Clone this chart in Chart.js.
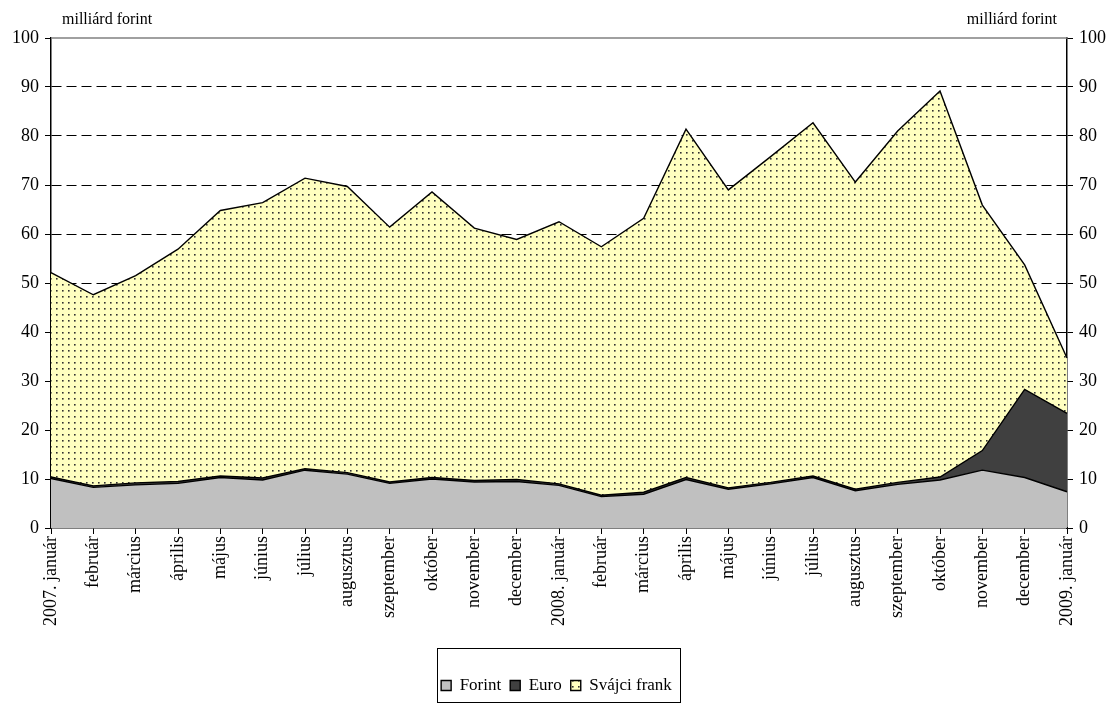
<!DOCTYPE html>
<html>
<head>
<meta charset="utf-8">
<script src="https://cdn.jsdelivr.net/npm/chart.js@4"></script>
<style>
  html, body { margin: 0; padding: 0; background: #fff; }
  #wrap { width: 1113px; height: 704px; }
</style>
</head>
<body>
<div id="wrap"><canvas id="chart"></canvas></div>
<script>
const months = ['2007. január', 'február', 'március', 'április', 'május', 'június', 'július',
    'augusztus', 'szeptember', 'október', 'november', 'december',
    '2008. január', 'február', 'március', 'április', 'május', 'június', 'július',
    'augusztus', 'szeptember', 'október', 'november', 'december', '2009. január'];

// milliárd forint
const forint = [10.1, 8.3, 8.8, 9.1, 10.3, 9.8, 11.8, 11.0, 9.1, 10.0, 9.4, 9.5,
    8.7, 6.4, 6.9, 9.9, 7.9, 9.0, 10.3, 7.6, 8.9, 9.8, 11.8, 10.3, 7.4];
const euro = [0.3, 0.3, 0.4, 0.4, 0.3, 0.4, 0.3, 0.3, 0.3, 0.3, 0.3, 0.4,
    0.3, 0.3, 0.4, 0.4, 0.3, 0.3, 0.3, 0.3, 0.4, 0.6, 4.0, 18.0, 16.0];
const frank = [41.7, 39.0, 42.3, 47.4, 54.2, 56.2, 59.3, 58.4, 52.0, 58.3, 51.5, 49.0,
    53.5, 50.7, 55.9, 71.1, 60.8, 66.5, 72.1, 62.7, 71.7, 78.8, 50.1, 25.4, 11.3];

const yTicks = [0, 10, 20, 30, 40, 50, 60, 70, 80, 90, 100];
const unitLabel = 'milliárd forint';

const FONT = '"Liberation Serif", "Times New Roman", serif';

function dotPattern() {
    const c = document.createElement('canvas');
    c.width = 6; c.height = 6;
    const g = c.getContext('2d');
    g.fillStyle = '#ffffc0';
    g.fillRect(0, 0, 6, 6);
    g.fillStyle = '#303030';
    g.fillRect(2, 2, 1.6, 1.6);
    return g.createPattern(c, 'repeat');
}
const frankFill = dotPattern();

const frame = {
    id: 'frame',
    afterDraw(chart) {
        const { ctx, chartArea } = chart;
        ctx.save();
        // top line at 100
        ctx.strokeStyle = '#808080';
        ctx.lineWidth = 1.5;
        ctx.beginPath();
        ctx.moveTo(chartArea.left, chartArea.top);
        ctx.lineTo(chartArea.right, chartArea.top);
        ctx.stroke();
        // unit labels
        ctx.fillStyle = '#000';
        ctx.font = '16px ' + FONT;
        ctx.textBaseline = 'alphabetic';
        ctx.textAlign = 'left';
        ctx.fillText(unitLabel, chartArea.left + 11, 24);
        ctx.textAlign = 'right';
        ctx.fillText(unitLabel, chartArea.right - 10, 24);
        // legend box
        const boxes = chart.legend.legendHitBoxes;
        if (boxes && boxes.length) {
            const l = Math.min(...boxes.map(b => b.left)) - 4;
            const r = Math.max(...boxes.map(b => b.left + b.width)) + 8;
            ctx.strokeStyle = '#000';
            ctx.lineWidth = 1;
            ctx.strokeRect(Math.round(l) + 0.5, 648.5, Math.round(r - l), 54);
        }
        ctx.restore();
    }
};

const ctx = document.getElementById('chart').getContext('2d');
new Chart(ctx, {
    type: 'line',
    data: {
        labels: months,
        datasets: [
            { label: 'Forint', data: forint, backgroundColor: '#c0c0c0', fill: 'origin' },
            { label: 'Euro', data: euro, backgroundColor: '#404040', fill: '-1' },
            { label: 'Svájci frank', data: frank, backgroundColor: frankFill, fill: '-1' }
        ].map(ds => Object.assign(ds, {
            borderColor: '#000',
            borderWidth: 1.4,
            pointRadius: 0,
            tension: 0
        }))
    },
    options: {
        responsive: true,
        maintainAspectRatio: false,
        animation: false,
        layout: { padding: { top: 38, bottom: 0, left: 0, right: 0 } },
        plugins: {
            legend: {
                display: true,
                position: 'bottom',
                labels: {
                    font: { family: FONT, size: 17 },
                    color: '#000',
                    boxWidth: 10,
                    boxHeight: 10,
                    padding: 9
                }
            },
            tooltip: { enabled: false }
        },
        scales: {
            x: {
                offset: false,
                grid: { display: true, drawOnChartArea: false, tickLength: 6, color: '#000' },
                border: { color: '#000', width: 1.5 },
                ticks: {
                    font: { family: FONT, size: 18 },
                    color: '#000',
                    minRotation: 90,
                    maxRotation: 90,
                    autoSkip: false,
                    padding: 2
                },
                afterFit: s => { s.height = 140; }
            },
            y: {
                stacked: true,
                min: 0,
                max: 100,
                afterBuildTicks: s => { s.ticks = yTicks.map(v => ({ value: v })); },
                grid: {
                    color: c => (c.tick.value === 0 || c.tick.value === 100) ? 'rgba(0,0,0,0)' : '#000',
                    tickColor: '#000',
                    tickLength: 6,
                    tickBorderDash: [],
                    lineWidth: 1
                },
                border: { color: '#000', width: 1.5, dash: [10, 5] },
                ticks: { font: { family: FONT, size: 18 }, color: '#000', padding: 6 },
                afterFit: s => { s.width = 51; }
            },
            y2: {
                position: 'right',
                min: 0,
                max: 100,
                afterBuildTicks: s => { s.ticks = yTicks.map(v => ({ value: v })); },
                grid: { drawOnChartArea: false, tickColor: '#000', tickLength: 6 },
                border: { color: '#000', width: 1.5 },
                ticks: { font: { family: FONT, size: 18 }, color: '#000', padding: 6 },
                afterFit: s => { s.width = 46; }
            }
        }
    },
    plugins: [frame]
});
</script>
</body>
</html>
